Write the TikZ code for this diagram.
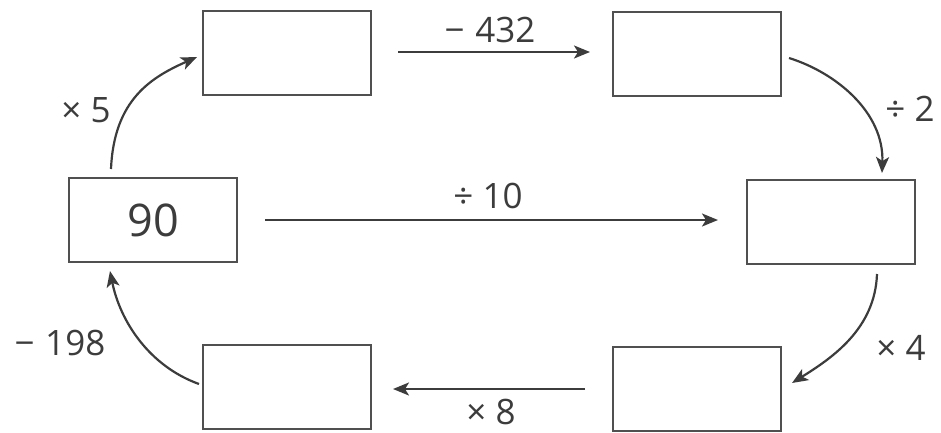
\documentclass[tikz,border=0pt]{standalone}
\usepackage{fontspec}
\setmainfont{Open Sans}
\usetikzlibrary{arrows.meta}
\definecolor{ink}{HTML}{3C3C3C}
\definecolor{boxline}{HTML}{505050}
\begin{document}
\begin{tikzpicture}[x=1pt,y=-1pt,
  numbox/.style={draw=boxline,line width=1.3pt,minimum width=168pt,minimum height=84pt,inner sep=0pt,outer sep=0pt},
  arr/.style={draw=ink,line width=2.2pt,-{Stealth[length=16pt,width=13pt,inset=4pt]}},
  lbl/.style={text=ink,font=\fontsize{35}{38}\selectfont,inner sep=0pt}]
\useasboundingbox (0,0) rectangle (941,432);
\node[numbox] (A) at (287,53) {};
\node[numbox] (B) at (697,54) {};
\node[numbox,font=\fontsize{45}{48}\selectfont,text=ink] (C) at (153,220) {90};
\node[numbox] (D) at (831,222) {};
\node[numbox] (E) at (287,387) {};
\node[numbox] (F) at (697,389) {};
% straight arrows
\draw[arr,shorten <=27pt,shorten >=23pt] ([yshift=1pt]A.east) -- ([yshift=1pt]A.east -| B.west);
\draw[arr,shorten <=28pt,shorten >=29pt] (C.east) -- (C.east -| D.west);
\draw[arr,shorten <=28pt,shorten >=22pt] (F.west) -- (F.west -| E.east);
% curved arrows
\draw[arr] ([xshift=-42pt,yshift=9pt]C.north) .. controls +(3,-70) and +(-45,20) .. ([xshift=-6pt,yshift=-4pt]A.west);
\draw[arr] ([xshift=8pt,yshift=-4pt]B.east) .. controls +(48,15) and +(2,-60) .. ([xshift=51pt,yshift=7pt]D.north);
\draw[arr] ([xshift=46pt,yshift=-10pt]D.south) .. controls +(-2,55) and +(40,-25) .. ([xshift=11pt,yshift=6pt]F.east);
\draw[arr] ([xshift=-4pt,yshift=3pt]E.west) .. controls +(-50,-18) and +(10,50) .. ([xshift=-43pt,yshift=-9pt]C.south);
% labels
\node[lbl] (l1) at (490,30) {−\hspace{0.3em}432};
\node[lbl] (l2) at (488,196) {÷ 10};
\node[lbl] (l3) at (491,412) {× 8};
\node[lbl] (l4) at (910,109) {÷ 2};
\node[lbl] (l5) at (901,348) {× 4};
\node[lbl] (l6) at (60,343) {−\hspace{0.3em}198};
\node[lbl] (l7) at (86,110) {× 5};
\end{tikzpicture}
\end{document}
